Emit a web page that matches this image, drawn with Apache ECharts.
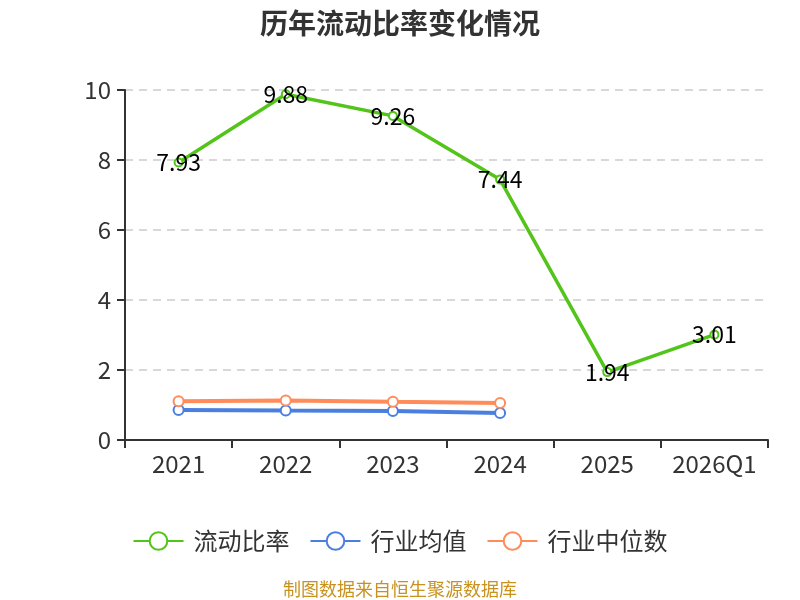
<!DOCTYPE html>
<html><head><meta charset="utf-8">
<script src="https://cdn.jsdelivr.net/npm/echarts@6/dist/echarts.min.js"></script>
<style>html,body{margin:0;padding:0;background:#fff}#c{width:800px;height:600px}</style>
</head><body><div id="c"></div>
<script>
const categories = ['2021','2022','2023','2024','2025','2026Q1'];
const currentRatio = [7.93, 9.88, 9.26, 7.44, 1.94, 3.01];
const industryAvg = [0.86, 0.84, 0.83, 0.77];
const industryMedian = [1.11, 1.13, 1.09, 1.06];
const yTicks = [0, 2, 4, 6, 8, 10];

const chart = echarts.init(document.getElementById('c'));
const font = '"Noto Sans CJK SC","Noto Sans",sans-serif';
chart.setOption({
  textStyle: {fontFamily: font},
  title: {text: '历年流动比率变化情况', left: 'center', top: 4,
    textStyle: {fontSize: 28, fontWeight: 'bold', color: '#333', fontFamily: font}},
  grid: {left: 125, right: 32, top: 90, bottom: 160},
  legend: {top: 524, itemWidth: 50, itemHeight: 22, itemGap: 20,
    textStyle: {fontSize: 24, color: '#333', fontFamily: font, padding: [0, 0, 0, 5]},
    data: ['流动比率','行业均值','行业中位数']},
  xAxis: {type: 'category', data: categories, boundaryGap: true,
    axisLine: {lineStyle: {color: '#333', width: 2}},
    axisTick: {show: true, length: 8, lineStyle: {color: '#333', width: 2}},
    axisLabel: {fontSize: 24, color: '#333', margin: 12, interval: 0}},
  yAxis: {type: 'value', min: yTicks[0], max: yTicks[yTicks.length-1], interval: 2,
    axisLine: {show: true, lineStyle: {color: '#333', width: 2}},
    axisTick: {show: true, length: 8, lineStyle: {color: '#333', width: 2}},
    axisLabel: {fontSize: 24, color: '#333', margin: 14},
    splitLine: {lineStyle: {type: [8, 6], color: '#ccc', width: 1.5}}},
  series: [
    {name: '流动比率', type: 'line', data: currentRatio, symbol: 'emptyCircle', symbolSize: 8,
      lineStyle: {width: 3.5, color: '#52c41a'}, itemStyle: {color: '#52c41a'},
      label: {show: true, position: 'inside', fontSize: 23, color: '#000'}},
    {name: '行业均值', type: 'line', data: industryAvg, symbol: 'emptyCircle', symbolSize: 10,
      lineStyle: {width: 4, color: '#4a7fe0'}, itemStyle: {color: '#4a7fe0'}},
    {name: '行业中位数', type: 'line', data: industryMedian, symbol: 'emptyCircle', symbolSize: 10,
      lineStyle: {width: 4, color: '#ff8c5a'}, itemStyle: {color: '#ff8c5a'}}
  ],
  graphic: [{type: 'text', left: 'center', top: 580,
    style: {text: '制图数据来自恒生聚源数据库', fontSize: 18, fill: '#c8921e', fontFamily: font}}]
});
</script></body></html>
